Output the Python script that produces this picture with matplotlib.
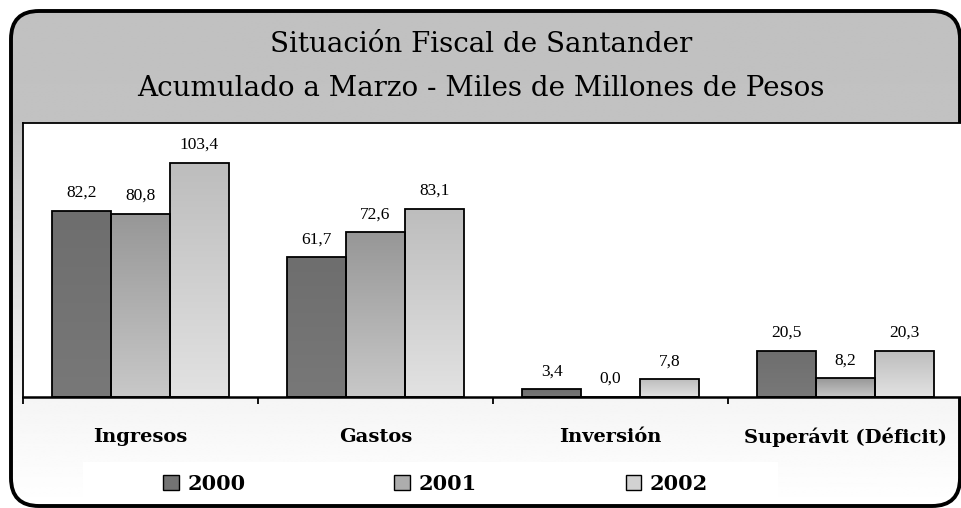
import matplotlib
matplotlib.use('Agg')
import matplotlib.pyplot as plt
import numpy as np
from matplotlib.colors import LinearSegmentedColormap
from matplotlib.patches import FancyBboxPatch, Patch


CATEGORIES = ['Ingresos', 'Gastos', 'Inversión', 'Superávit (Déficit)']
YEARS = ['2000', '2001', '2002']
VALUES_2000 = [82.2, 61.7, 3.4, 20.5]
VALUES_2001 = [80.8, 72.6, 0.0, 8.2]
VALUES_2002 = [103.4, 83.1, 7.8, 20.3]

TITLE_1 = 'Situación Fiscal de Santander'
TITLE_2 = 'Acumulado a Marzo - Miles de Millones de Pesos'

# (top colour, bottom colour, legend colour) per series
GRADIENTS = [
    ('#6e6e6e', '#787878', '#737373'),
    ('#979797', '#c8c8c8', '#adadad'),
    ('#bdbdbd', '#e2e2e2', '#d2d2d2'),
]

W, H = 962, 508


def fmt(v):
    return f'{v:.1f}'.replace('.', ',')


def draw_background(fig):
    bg = fig.add_axes([0, 0, 1, 1], zorder=-10)
    bg.set_xlim(0, W)
    bg.set_ylim(H, 0)
    bg.axis('off')

    frame = FancyBboxPatch((11, 11), 949, 495,
                           boxstyle='round,pad=0,rounding_size=28',
                           facecolor='none', edgecolor='none')
    bg.add_patch(frame)

    ys = np.linspace(0, H, 300)
    shade = np.interp(ys, [0, 120, 400, H], [0.753, 0.76, 0.96, 1.0])
    img = np.repeat(shade[:, None], 2, axis=1)
    im = bg.imshow(img, extent=[0, W, H, 0], cmap='gray', vmin=0, vmax=1,
                   aspect='auto', interpolation='bilinear')
    im.set_clip_path(frame)

    # white panel behind the legend
    bg.add_patch(plt.Rectangle((83, 462), 695, 44, facecolor='white',
                               edgecolor='none'))

    border = FancyBboxPatch((11, 11), 949, 495,
                            boxstyle='round,pad=0,rounding_size=28',
                            facecolor='none', edgecolor='black', linewidth=2.8)
    bg.add_patch(border)
    bg.set_xlim(0, W)
    bg.set_ylim(H, 0)


def gradient_bars(ax, bars, top, bottom):
    cmap = LinearSegmentedColormap.from_list('g', [bottom, top])
    grad = np.linspace(1, 0, 100)[:, None]
    for bar in bars:
        x0 = bar.get_x()
        h = bar.get_height()
        if h <= 0:
            continue
        im = ax.imshow(grad, extent=[x0, x0 + bar.get_width(), 0, h],
                       cmap=cmap, vmin=0, vmax=1, aspect='auto',
                       interpolation='bicubic', zorder=2)
        im.set_clip_path(bar)


def main():
    fig = plt.figure(figsize=(W / 100, H / 100), dpi=100)
    fig.patch.set_facecolor('white')
    draw_background(fig)

    ax = fig.add_axes([23 / W, (H - 397) / H, 940 / W, 274 / H])
    ax.set_facecolor('white')

    x = np.arange(len(CATEGORIES))
    width = 0.25
    series = [VALUES_2000, VALUES_2001, VALUES_2002]
    for i, vals in enumerate(series):
        top, bottom, _ = GRADIENTS[i]
        bars = ax.bar(x + (i - 1) * width, vals, width, facecolor='none',
                      edgecolor='black', linewidth=1.3, zorder=3)
        gradient_bars(ax, bars, top, bottom)
        for bar, v in zip(bars, vals):
            ax.annotate(fmt(v), (bar.get_x() + bar.get_width() / 2, v),
                        xytext=(0, 10), textcoords='offset points',
                        ha='center', va='baseline', fontsize=12.5,
                        family='Liberation Serif', zorder=4)

    ax.set_xlim(-0.5, 3.5)
    ax.set_ylim(0, 120.9)
    ax.set_yticks([])

    ax.set_xticks(np.arange(-0.5, 4.0, 1.0))
    ax.set_xticklabels([])
    ax.tick_params(axis='x', which='major', direction='out', length=5,
                   width=1.3, color='black')
    ax.set_xticks(x, minor=True)
    ax.set_xticklabels(CATEGORIES, minor=True, fontsize=14,
                       fontweight='bold', family='DejaVu Serif')
    ax.tick_params(axis='x', which='minor', length=0, pad=22)

    for side in ['top', 'left']:
        ax.spines[side].set_linewidth(1.3)
    ax.spines['bottom'].set_linewidth(1.8)
    ax.spines['right'].set_visible(False)

    fig.text(0.5, (H - 44) / H, TITLE_1, ha='center', va='center',
             fontsize=20, family='DejaVu Serif')
    fig.text(0.5, (H - 88) / H, TITLE_2, ha='center', va='center',
             fontsize=20, family='DejaVu Serif')

    handles = [Patch(facecolor=g[2], edgecolor='black', linewidth=1.0)
               for g in GRADIENTS]
    fig.legend(handles, YEARS, loc='center', ncol=3,
               bbox_to_anchor=(0.5 * (83 + 778) / W + 5 / W, (H - 484) / H),
               frameon=False, handlelength=0.75, handleheight=0.75,
               handletextpad=0.4, columnspacing=7.15,
               prop={'family': 'DejaVu Serif', 'weight': 'bold', 'size': 15})

    fig.savefig('out.png', dpi=100)
    plt.close(fig)


if __name__ == '__main__':
    main()
